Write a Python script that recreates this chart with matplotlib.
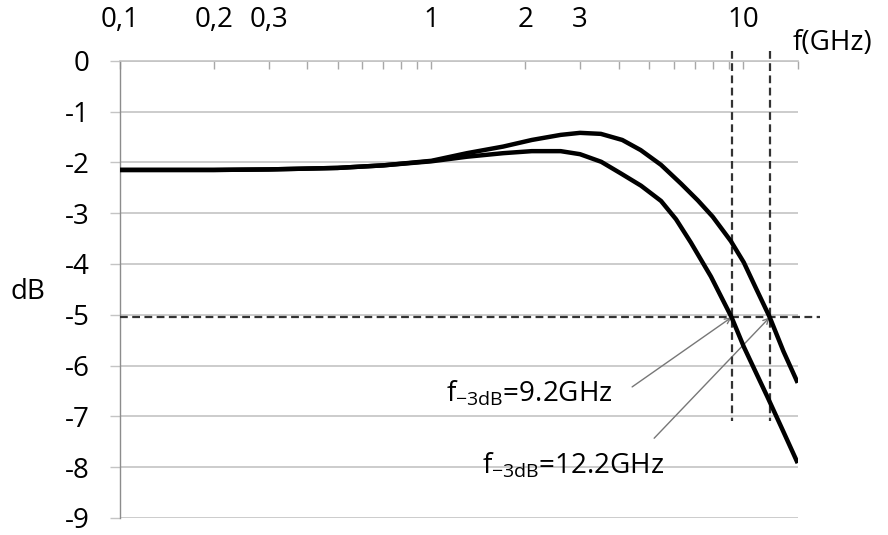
import matplotlib
matplotlib.use("Agg")
import matplotlib.pyplot as plt
from matplotlib.ticker import FixedLocator, FixedFormatter, NullFormatter

plt.rcParams['font.family'] = ['Open Sans', 'DejaVu Sans']
plt.rcParams['mathtext.fontset'] = 'custom'
plt.rcParams['mathtext.rm'] = 'Open Sans'
plt.rcParams['mathtext.default'] = 'regular'

# ---- data ----
freq_upper = [0.1, 0.2, 0.3, 0.5, 0.7, 1.0, 1.3, 1.7, 2.1, 2.6, 3.0, 3.5, 4.1, 4.7,
              5.46, 6.33, 7.17, 8.0, 9.15, 10.07, 11.0, 12.2, 13.5, 15.0]
db_upper = [-2.15, -2.15, -2.14, -2.11, -2.06, -1.97, -1.82, -1.69, -1.56, -1.46,
            -1.42, -1.44, -1.56, -1.76, -2.05, -2.42, -2.75, -3.07, -3.55, -3.97,
            -4.47, -5.05, -5.72, -6.34]

freq_lower = [0.1, 0.2, 0.3, 0.5, 0.7, 1.0, 1.3, 1.7, 2.1, 2.6, 3.0, 3.51, 4.06, 4.71,
              5.46, 6.1, 6.81, 7.9, 9.2, 10.07, 11.0, 12.0, 13.4, 15.0]
db_lower = [-2.15, -2.15, -2.14, -2.11, -2.06, -1.98, -1.89, -1.82, -1.78, -1.78,
            -1.84, -1.99, -2.22, -2.46, -2.76, -3.12, -3.58, -4.25, -5.05, -5.63,
            -6.13, -6.62, -7.26, -7.92]

cutoffs = [9.2, 12.2]
cutoff_labels = [r'f$_{-3dB}$=9.2GHz', r'f$_{-3dB}$=12.2GHz']
ref_level = -5.05

xtick_major = [0.1, 0.2, 0.3, 1, 2, 3, 10]
xtick_labels = ['0,1', '0,2', '0,3', '1', '2', '3', '10']
xtick_minor = [0.4, 0.5, 0.6, 0.7, 0.8, 0.9, 4, 5, 6, 7, 8, 9, 15]
ytick_values = [0, -1, -2, -3, -4, -5, -6, -7, -8, -9]
ytick_labels = ['0', '-1', '-2', '-3', '-4', '-5', '-6', '-7', '-8', '-9']

# ---- figure ----
fig = plt.figure(figsize=(8.88, 5.35), dpi=100)
ax = fig.add_axes([120 / 888, 1 - 518 / 535, (797.7 - 120) / 888, (518 - 60.7) / 535])
ax.set_xscale('log')
ax.set_xlim(0.1, 15)
ax.set_ylim(-9, 0)

grid_c = '#c4c4c4'
ax.xaxis.tick_top()
ax.xaxis.set_major_locator(FixedLocator(xtick_major))
ax.xaxis.set_major_formatter(FixedFormatter(xtick_labels))
ax.xaxis.set_minor_locator(FixedLocator(xtick_minor))
ax.xaxis.set_minor_formatter(NullFormatter())
ax.tick_params(axis='x', which='both', direction='in', length=5.5, width=1,
               color='#a8a8a8', top=True, bottom=False, labelsize=20, pad=19)

ax.yaxis.set_major_locator(FixedLocator(ytick_values))
ax.yaxis.set_major_formatter(FixedFormatter(ytick_labels))
ax.tick_params(axis='y', which='both', direction='out', length=7, width=1,
               color=grid_c, labelsize=20, pad=15)
ax.yaxis.grid(True, color=grid_c, lw=1.2)
ax.xaxis.grid(False)
ax.set_axisbelow(True)

for s in ['bottom', 'right']:
    ax.spines[s].set_visible(False)
ax.spines['top'].set_color(grid_c)
ax.spines['top'].set_linewidth(1.2)
ax.spines['left'].set_color('#8c8c8c')
ax.spines['left'].set_linewidth(1)

# curves
ax.plot(freq_upper, db_upper, color='black', lw=3.2, solid_capstyle='butt',
        solid_joinstyle='round', zorder=5)
ax.plot(freq_lower, db_lower, color='black', lw=3.2, solid_capstyle='butt',
        solid_joinstyle='round', zorder=5)

# reference dashed lines
dash_kw = dict(color='#333333', lw=1.6, linestyle=(0, (3.5, 2)), clip_on=False, zorder=4)
ax.plot([0.1, 17.7], [ref_level, ref_level], **dash_kw)
for fc in cutoffs:
    ax.plot([fc, fc], [0.2, -7.1], **dash_kw)

# annotations
arrow_kw = dict(arrowstyle='->', color='#777777', lw=1, shrinkA=0, shrinkB=0,
                mutation_scale=10)
ax.annotate('', xy=(cutoffs[0], ref_level), xytext=(4.41, -6.42), arrowprops=arrow_kw)
ax.annotate('', xy=(cutoffs[1], ref_level), xytext=(5.19, -7.43), arrowprops=arrow_kw)
ax.text(1.117, -6.71, cutoff_labels[0], fontsize=20, va='baseline', ha='left')
ax.text(1.458, -8.12, cutoff_labels[1], fontsize=20, va='baseline', ha='left')

fig.text(10 / 888, 1 - 292 / 535, 'dB', fontsize=20, ha='left', va='center')
fig.text(793 / 888, 1 - 43 / 535, 'f(GHz)', fontsize=20, ha='left', va='center')

fig.savefig('out.png', dpi=100)
